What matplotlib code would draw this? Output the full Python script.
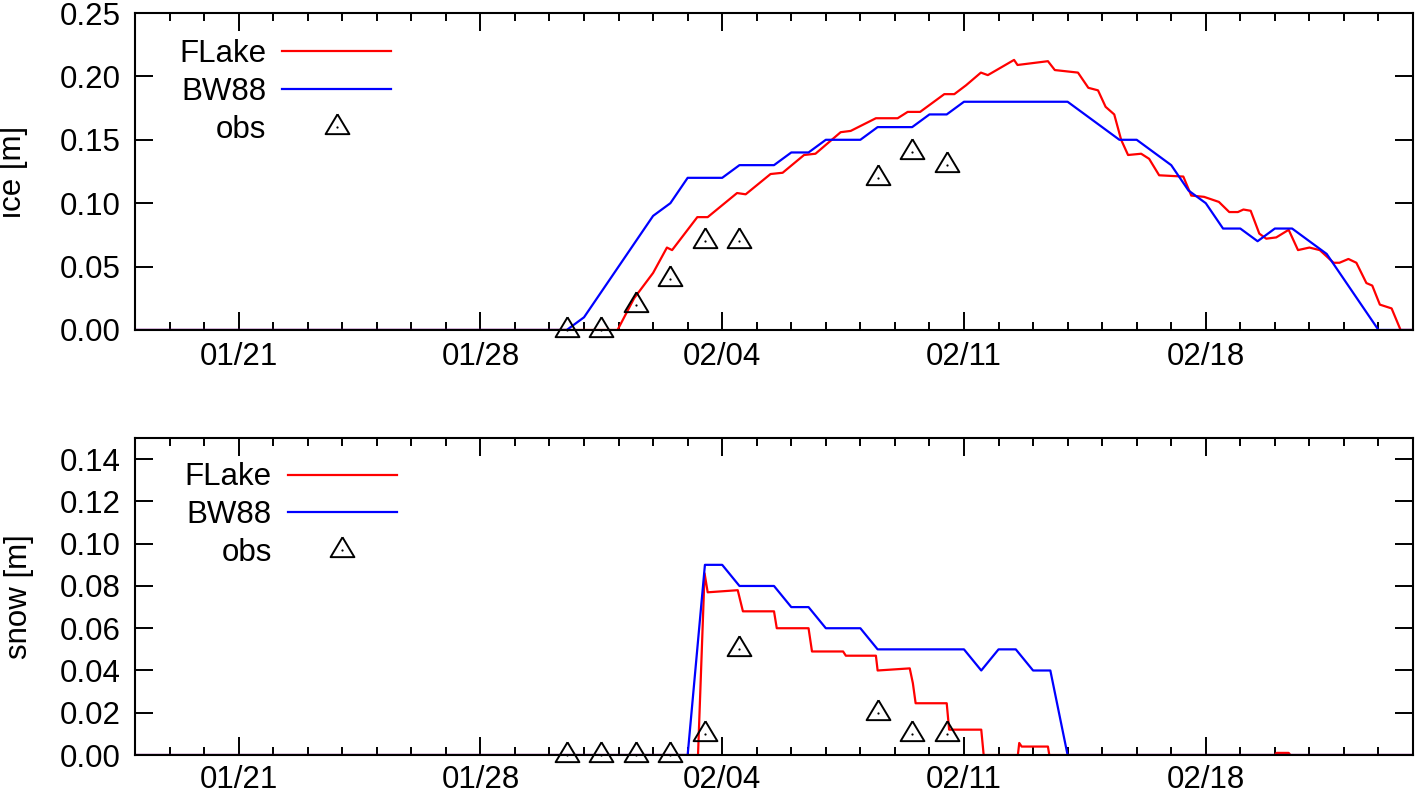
import numpy as np
import pandas as pd
import matplotlib
matplotlib.use("Agg")
import matplotlib.pyplot as plt
import matplotlib.dates as mdates

# time axis: days counted from Jan 18
start = pd.Timestamp("2011-01-18")
t_end = 37

# ice thickness, FLake
flake_ice_day = [0, 13.97, 14.45, 15.0, 15.4, 15.55, 16.28, 16.58, 17.43, 17.68,
                 18.4, 18.75, 19.37, 19.7, 20.43, 20.72, 21.45, 22.08, 22.37, 22.73,
                 23.43, 23.72, 24.06, 24.49, 24.69, 25.07, 25.45, 25.55, 26.43, 26.63,
                 27.3, 27.6, 27.88, 28.1, 28.35, 28.55, 28.75, 29.13, 29.36, 29.65,
                 30.35, 30.58, 30.95, 31.38, 31.68, 31.93, 32.09, 32.3, 32.55, 32.75,
                 33.04, 33.4, 33.67, 34.0, 34.3, 34.7, 34.87, 35.13, 35.36, 35.65,
                 35.82, 36.04, 36.38, 36.64, 37]
flake_ice = [0, 0, 0.025, 0.045, 0.065, 0.063, 0.089, 0.089, 0.108, 0.107,
             0.123, 0.124, 0.138, 0.139, 0.156, 0.157, 0.167, 0.167, 0.172, 0.172,
             0.186, 0.186, 0.193, 0.203, 0.201, 0.207, 0.213, 0.209, 0.212, 0.205,
             0.203, 0.191, 0.189, 0.176, 0.170, 0.150, 0.138, 0.139, 0.135, 0.122,
             0.121, 0.106, 0.105, 0.101, 0.093, 0.093, 0.095, 0.094, 0.076, 0.072,
             0.073, 0.079, 0.063, 0.065, 0.063, 0.053, 0.053, 0.056, 0.053, 0.037,
             0.035, 0.020, 0.017, 0, 0]

# ice thickness, BW88
bw_ice_day = [0, 12.5, 13.0, 15.0, 15.5, 16.0, 17.0, 17.5, 18.5, 19.0, 19.5, 20.0,
              21.0, 21.5, 22.5, 23.0, 23.5, 24.0, 27.0, 28.5, 29.0, 30.0, 30.5,
              31.0, 31.5, 32.0, 32.5, 33.0, 33.5, 34.5, 36.0, 37]
bw_ice = [0, 0, 0.01, 0.09, 0.10, 0.12, 0.12, 0.13, 0.13, 0.14, 0.14, 0.15,
          0.15, 0.16, 0.16, 0.17, 0.17, 0.18, 0.18, 0.15, 0.15, 0.13, 0.11,
          0.10, 0.08, 0.08, 0.07, 0.08, 0.08, 0.06, 0, 0]

# snow depth, FLake
flake_snow_day = [0, 16.3, 16.49, 16.58, 17.45, 17.6, 18.5, 18.58, 19.5, 19.6,
                  20.5, 20.58, 21.45, 21.5, 22.43, 22.52, 22.6, 23.5, 23.57, 24.5,
                  24.57, 25.56, 25.6, 25.67, 26.43, 26.47, 33.0, 33.05, 33.4, 33.45, 37]
flake_snow = [0, 0, 0.086, 0.077, 0.078, 0.068, 0.068, 0.060, 0.060, 0.049,
              0.049, 0.047, 0.047, 0.040, 0.041, 0.034, 0.0245, 0.0245, 0.012, 0.012,
              0, 0, 0.0057, 0.004, 0.004, 0, 0, 0.001, 0.001, 0, 0]

# snow depth, BW88
bw_snow_day = [0, 16.0, 16.5, 17.0, 17.5, 18.5, 19.0, 19.5, 20.0, 21.0, 21.5,
               24.0, 24.5, 25.0, 25.5, 26.0, 26.5, 27.0, 37]
bw_snow = [0, 0, 0.09, 0.09, 0.08, 0.08, 0.07, 0.07, 0.06, 0.06, 0.05,
           0.05, 0.04, 0.05, 0.05, 0.04, 0.04, 0, 0]

# observations
obs_day = [12.5, 13.5, 14.5, 15.5, 16.5, 17.5, 21.5, 22.5, 23.5]
obs_ice = [0, 0, 0.02, 0.04, 0.07, 0.07, 0.12, 0.14, 0.13]
obs_snow = [0, 0, 0, 0, 0.01, 0.05, 0.02, 0.01, 0.01]


def to_dates(days):
    return start + pd.to_timedelta(np.asarray(days, dtype=float), unit="D")


plt.rcParams["font.family"] = ["Liberation Sans", "DejaVu Sans"]
plt.rcParams["font.size"] = 22.5

# open triangle with its centroid on the data point
tri = [(0, 13.3), (-12, -6.7), (12, -6.7), (0, 13.3)]

fig = plt.figure(figsize=(14.15, 7.93), dpi=100)
ax1 = fig.add_axes([0.0954, 0.5839, 0.9032, 0.3997])
ax2 = fig.add_axes([0.0954, 0.0479, 0.9032, 0.3997])

panels = [
    (ax1, flake_ice_day, flake_ice, bw_ice_day, bw_ice, obs_ice, "ice [m]",
     0.25, 0.05, -0.0837, (0.0344, 0.917), 9),
    (ax2, flake_snow_day, flake_snow, bw_snow_day, bw_snow, obs_snow, "snow [m]",
     0.15, 0.02, -0.079, (0.039, 0.923), 7),
]

for ax, fd, fv, bd, bv, ov, lab, ymax, ystep, labx, legpos, xpad in panels:
    l1, = ax.plot(to_dates(fd), fv, color="#ff0000", lw=1.6)
    l2, = ax.plot(to_dates(bd), bv, color="#0000ff", lw=1.6)
    m1, = ax.plot(to_dates(obs_day), ov, ls="none", marker=tri, ms=19,
                  mfc="none", mec="black", mew=1.4, clip_on=False, zorder=5)
    m2, = ax.plot(to_dates(obs_day), ov, ls="none", marker="o", ms=1.6,
                  mfc="black", mec="black", mew=0, clip_on=False, zorder=5)

    ax.set_xlim(to_dates([0])[0], to_dates([t_end])[0])
    ax.set_ylim(0, ymax)
    ax.set_yticks(np.arange(0, ymax + 1e-9, ystep))
    ax.yaxis.set_major_formatter(plt.FormatStrFormatter("%.2f"))

    ax.xaxis.set_major_locator(mdates.WeekdayLocator(byweekday=mdates.FR))
    ax.xaxis.set_minor_locator(mdates.DayLocator())
    ax.xaxis.set_major_formatter(mdates.DateFormatter("%m/%d"))

    ax.tick_params(which="both", direction="in", top=True, right=True)
    ax.tick_params(which="major", length=13, width=1.4)
    ax.tick_params(which="minor", length=6, width=1.4)
    ax.tick_params(axis="y", pad=10)
    ax.tick_params(axis="x", pad=xpad)
    for s in ax.spines.values():
        s.set_linewidth(1.5)

    ax.set_ylabel(lab)
    ax.yaxis.set_label_coords(labx, 0.5)

    ax.legend([l1, l2, (m1, m2)], ["FLake", "BW88", "obs"],
              loc="upper left", bbox_to_anchor=legpos, frameon=False,
              markerfirst=False, handlelength=3.49, handletextpad=0.51,
              labelspacing=0.25, borderpad=0, borderaxespad=0)

fig.savefig("out.png", dpi=100)
